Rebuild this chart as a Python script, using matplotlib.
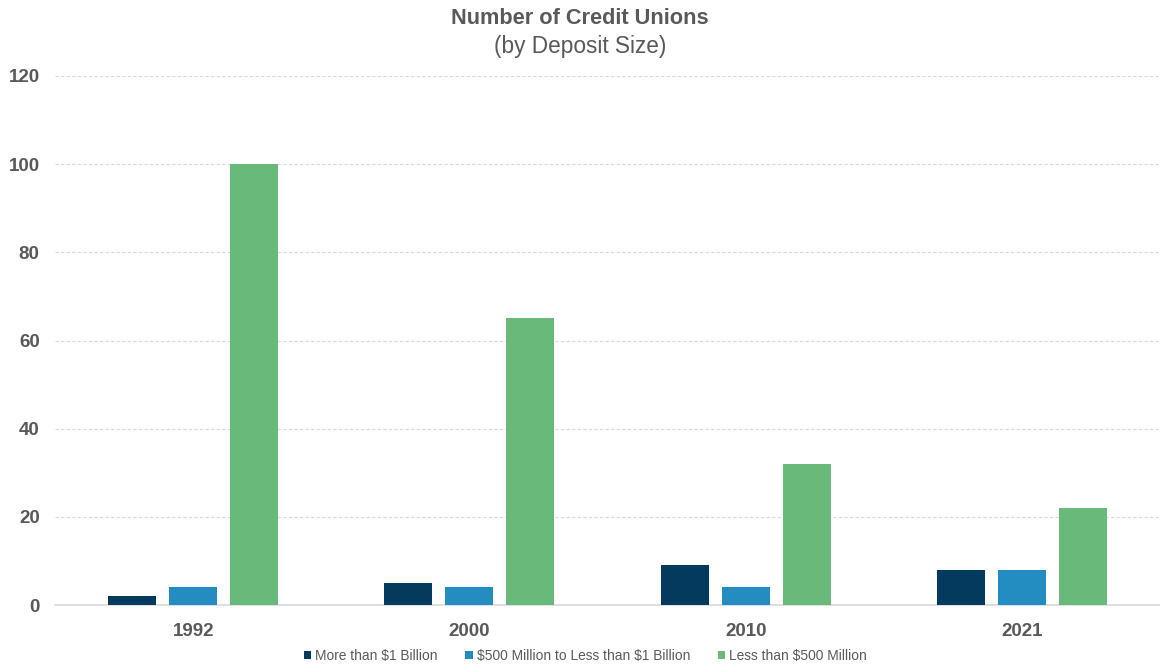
import numpy as np
import matplotlib.pyplot as plt
import matplotlib

matplotlib.rcParams.update({'font.family': ['Liberation Sans', 'DejaVu Sans']})

years = ["1992", "2000", "2010", "2021"]
series_names = ["More than \\$1 Billion",
                "\\$500 Million to Less than \\$1 Billion",
                "Less than \\$500 Million"]
over_1b = [2, 5, 9, 8]
mid_500m_1b = [4, 4, 4, 8]
under_500m = [100, 65, 32, 22]
colors = ["#033a5e", "#238dc2", "#69b97a"]

grey = "#595959"
fig = plt.figure(figsize=(11.6, 6.66), dpi=100)
ax = fig.add_axes([55 / 1160, 1 - 605 / 666, 1 - 55 / 1160, (605 - 76) / 666])

x = np.arange(len(years))
width = 0.174
offset = 0.221
for i, vals in enumerate([over_1b, mid_500m_1b, under_500m]):
    ax.bar(x + (i - 1) * offset, vals, width, color=colors[i],
           label=series_names[i], zorder=3)

ax.set_xlim(-0.5, len(years) - 0.5)
ax.set_ylim(0, 120)
ax.set_yticks(np.arange(0, 121, 20))
ax.set_xticks(x)
ax.set_xticklabels(years)
ax.yaxis.grid(True, linestyle=(0, (3, 2)), color="#d9d9d9", linewidth=0.8, zorder=0)
for s in ["top", "right", "left"]:
    ax.spines[s].set_visible(False)
ax.spines["bottom"].set_color("#d9d9d9")
ax.spines["bottom"].set_linewidth(1.2)
ax.tick_params(axis='both', length=0, labelsize=13.5, labelcolor=grey)
ax.tick_params(axis='y', pad=11)
ax.tick_params(axis='x', pad=13)
for lab in ax.get_xticklabels() + ax.get_yticklabels():
    lab.set_fontweight("bold")

fig.text(0.5, 1 - 18 / 666, "Number of Credit Unions", ha="center", va="center",
         fontsize=15.7, fontweight="bold", color=grey)
fig.text(0.5, 1 - 47 / 666, "(by Deposit Size)", ha="center", va="center",
         fontsize=16.3, color=grey)

ax.legend(loc="center", bbox_to_anchor=(0.48, -51 / 529),
          ncol=3, frameon=False, fontsize=9.9, labelcolor=grey,
          handlelength=0.55, handleheight=0.55, handletextpad=0.3, columnspacing=2.0,
          bbox_transform=ax.transAxes)

fig.savefig("out.png", dpi=100)
